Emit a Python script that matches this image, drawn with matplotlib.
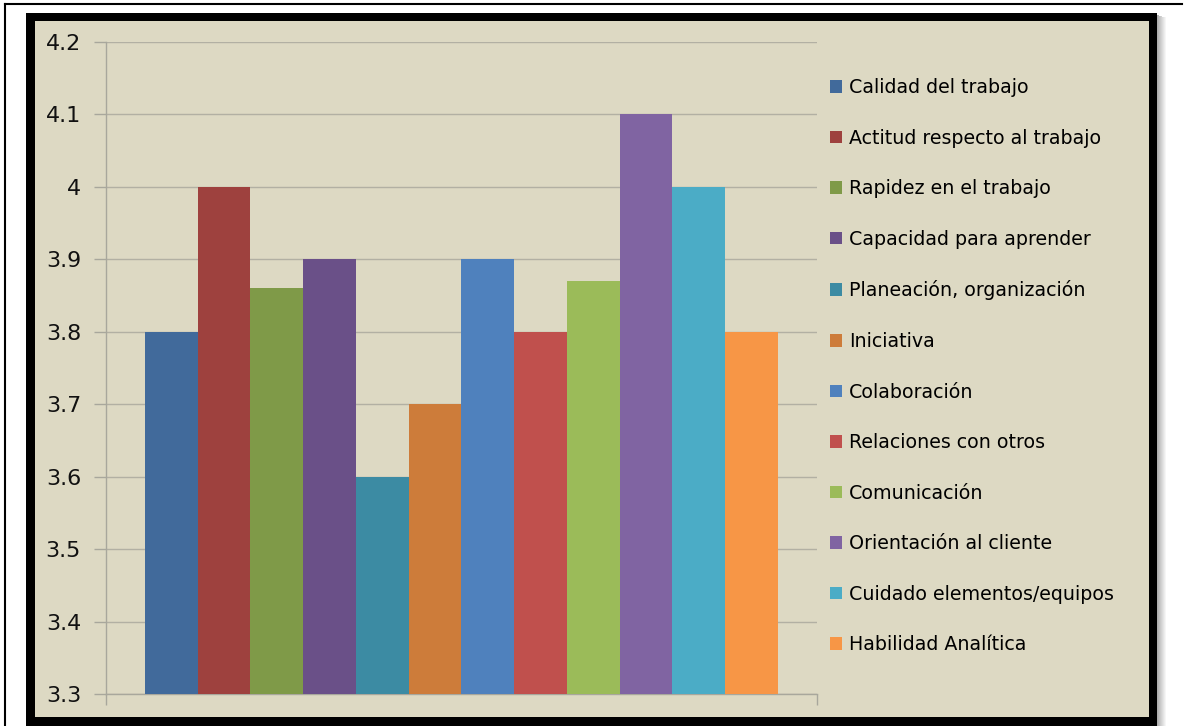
import numpy as np
import matplotlib.pyplot as plt
from matplotlib.patches import Rectangle
from matplotlib.lines import Line2D

# competencias evaluadas y su puntaje promedio
competencias = ['Calidad del trabajo', 'Actitud respecto al trabajo', 'Rapidez en el trabajo',
                'Capacidad para aprender', 'Planeación, organización', 'Iniciativa',
                'Colaboración', 'Relaciones con otros', 'Comunicación',
                'Orientación al cliente', 'Cuidado elementos/equipos', 'Habilidad Analítica']
puntajes = [3.8, 4.0, 3.86, 3.9, 3.6, 3.7, 3.9, 3.8, 3.87, 4.1, 4.0, 3.8]
colores = ['#416A9B', '#9E413E', '#7F9A48', '#6A5088', '#3C8BA3', '#CD7C3A',
           '#4F81BD', '#C0504D', '#9BBB59', '#8064A2', '#4BACC6', '#F79646']
marcas_y = [3.3, 3.4, 3.5, 3.6, 3.7, 3.8, 3.9, 4.0, 4.1, 4.2]
etiquetas_y = ['3.3', '3.4', '3.5', '3.6', '3.7', '3.8', '3.9', '4', '4.1', '4.2']

W, H = 1184, 726
fondo = '#DDD9C3'
fig = plt.figure(figsize=(W / 100, H / 100), dpi=100, facecolor='white')

def px(x0, y0, x1, y1):
    # rectángulo en pixeles (origen arriba a la izquierda) -> coords de figura
    return (x0 / W, 1 - y1 / H), (x1 - x0) / W, (y1 - y0) / H

# borde fino exterior
fig.add_artist(Line2D([4.5 / W, 4.5 / W], [0, 1 - 4 / H], color='black', lw=1.5, zorder=-5))
fig.add_artist(Line2D([4.5 / W, 1182 / W], [1 - 4 / H, 1 - 4 / H], color='black', lw=1.5, zorder=-5))

# sombra a la derecha del marco
for k in range(9):
    xy, w, h = px(1157 + k, 15 + k * 0.3, 1158 + k, H)
    fig.add_artist(Rectangle(xy, w, h, transform=fig.transFigure, zorder=-5,
                             facecolor='black', alpha=0.32 * (1 - k / 9), lw=0))

# marco negro grueso y fondo beige
xy, w, h = px(26, 13, 1157, H)
fig.add_artist(Rectangle(xy, w, h, transform=fig.transFigure, facecolor='black', lw=0, zorder=-4))
xy, w, h = px(35, 21, 1149, 717)
fig.add_artist(Rectangle(xy, w, h, transform=fig.transFigure, facecolor=fondo, lw=0, zorder=-3))

# área del gráfico
ax = fig.add_axes([106 / W, (H - 694) / H, (817 - 106) / W, (694 - 42) / H])
ax.set_facecolor('none')

x = np.arange(len(puntajes))
barras = ax.bar(x, [p - 3.3 for p in puntajes], bottom=3.3, width=1.0,
                color=colores, zorder=3, linewidth=0)

ax.set_xlim(-1.239, 12.24)
ax.set_ylim(3.3, 4.2)
ax.set_yticks(marcas_y)
ax.set_yticklabels(etiquetas_y, fontsize=16, color='#111111')
ax.set_xticks([-1.239, 12.24])
ax.set_xticklabels(['', ''])
ax.tick_params(axis='y', length=9, width=1, color='#A8A79C', pad=9)
ax.tick_params(axis='x', length=8, width=1, color='#A8A79C')
ax.grid(axis='y', color='#B2B0A3', lw=1, zorder=0)

for lado in ['top', 'right']:
    ax.spines[lado].set_visible(False)
for lado in ['left', 'bottom']:
    ax.spines[lado].set_color('#A8A79C')
    ax.spines[lado].set_linewidth(1)

# leyenda
ax.legend(barras, competencias, loc='upper left',
          bbox_to_anchor=(830 / W, 1 - 78 / H), bbox_transform=fig.transFigure,
          frameon=False, fontsize=13.7, handlelength=0.64, handleheight=0.64,
          handletextpad=0.37, labelspacing=1.66, borderpad=0, borderaxespad=0)

plt.savefig('out.png', dpi=100, facecolor='white')
